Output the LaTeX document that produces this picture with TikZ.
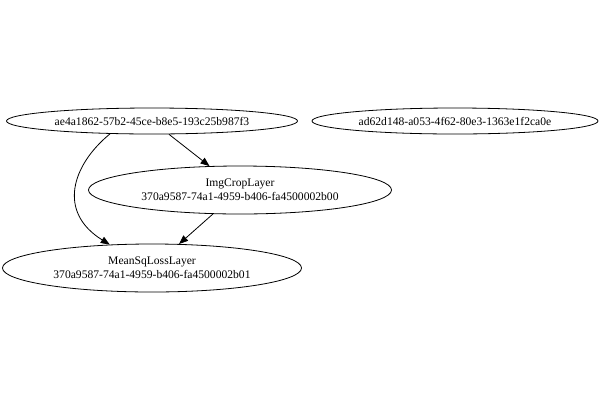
\documentclass[tikz,border=0pt]{standalone}
\usepackage{fontspec}
\setmainfont{Liberation Serif}
\usetikzlibrary{shapes.geometric,arrows.meta}
\tikzset{
  layer/.style={ellipse, draw, line width=0.8pt, inner sep=0pt,
    font=\fontsize{11.6}{14}\selectfont, align=center},
  edge/.style={line width=0.8pt, -{Triangle[length=9pt,width=7pt]}}
}
\begin{document}
\begin{tikzpicture}[x=1pt,y=-1pt]
  \useasboundingbox (0,0) rectangle (600,400);
  % input nodes
  \node[layer, minimum width=291pt, minimum height=26pt] (src) at (152,121)
    {ae4a1862-57b2-45ce-b8e5-193c25b987f3};
  \node[layer, minimum width=286pt, minimum height=26pt] (iso) at (455,121)
    {ad62d148-a053-4f62-80e3-1363e1f2ca0e};
  % layers
  \node[layer, minimum width=303pt, minimum height=48pt] (crop) at (240,190)
    {ImgCropLayer\\370a9587-74a1-4959-b406-fa4500002b00};
  \node[layer, minimum width=299pt, minimum height=48pt] (loss) at (152,268)
    {MeanSqLossLayer\\370a9587-74a1-4959-b406-fa4500002b01};
  % connections
  \draw[edge] (src) -- (crop);
  \draw[edge] (crop) -- (loss);
  \draw[edge] (src.197) .. controls (72,165) and (57,212) .. (loss.151);
\end{tikzpicture}
\end{document}
